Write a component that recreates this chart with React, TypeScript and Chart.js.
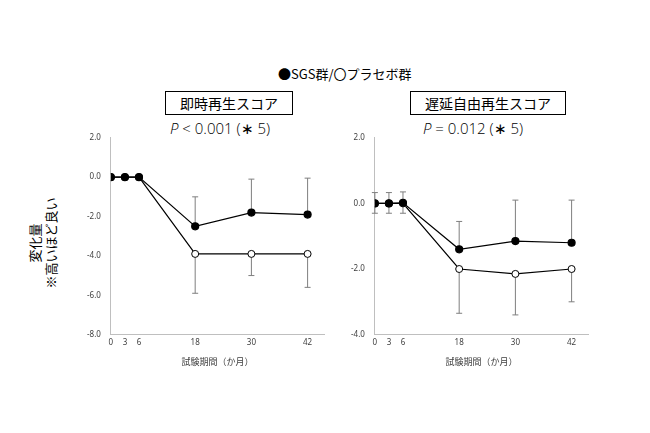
import React, { useEffect, useRef } from "react";
import { Chart, registerables } from "chart.js";
Chart.register(...registerables);

const months = [0, 3, 6, 18, 30, 42];
const xTickLabels = ["0", "3", "6", "18", "30", "42"];
// 即時再生スコア
const leftSGS = [0, 0, 0, -2.5, -1.8, -1.9];
const leftSGSUpper = [0, 0, 0, -1.0, -0.1, -0.05];
const leftPlacebo = [0, 0, 0, -3.9, -3.9, -3.9];
const leftPlaceboLower = [0, 0, 0, -5.9, -5.0, -5.6];
// 遅延自由再生スコア
const rightSGS = [0, 0, 0.02, -1.4, -1.15, -1.2];
const rightSGSUpper = [0.33, 0.33, 0.35, -0.55, 0.1, 0.1];
const rightPlacebo = [0, 0, 0, -2.0, -2.15, -2.0];
const rightPlaceboLower = [-0.3, -0.3, -0.3, -3.35, -3.4, -3.0];

const errPlugin = {
  id: "errbars",
  beforeDatasetsDraw(chart: any) {
    const ctx = chart.ctx;
    const xs = chart.scales.x, ys = chart.scales.y;
    ctx.save();
    ctx.strokeStyle = "#7f7f7f";
    ctx.lineWidth = 1;
    chart.data.datasets.forEach((ds: any) => {
      ds.data.forEach((p: any, i: number) => {
        const end = ds.errEnd[i];
        if (end === p.y) return;
        const x = xs.getPixelForValue(p.x);
        const y0 = ys.getPixelForValue(p.y);
        const y1 = ys.getPixelForValue(end);
        ctx.beginPath();
        ctx.moveTo(x, y0); ctx.lineTo(x, y1);
        ctx.moveTo(x - 3, y1); ctx.lineTo(x + 3, y1);
        ctx.stroke();
      });
    });
    ctx.restore();
  },
};

function makeCfg(sgs: number[], sgsErr: number[], pl: number[], plErr: number[], ymin: number, ystep: number) {
  const pts = (v: number[]) => months.map((m, i) => ({ x: m, y: v[i] }));
  return {
    type: "line",
    data: {
      datasets: [
        { data: pts(sgs), errEnd: sgsErr, borderColor: "#000", borderWidth: 1.2, pointRadius: 3.5, pointBackgroundColor: "#000", pointBorderColor: "#000" },
        { data: pts(pl), errEnd: plErr, borderColor: "#000", borderWidth: 1.2, pointRadius: 3.5, pointBackgroundColor: "#fff", pointBorderColor: "#000", pointBorderWidth: 1 },
      ],
    },
    options: {
      animation: false, responsive: false,
      layout: { padding: { right: 8, top: 6 } },
      plugins: { legend: { display: false }, tooltip: { enabled: false } },
      scales: {
        x: {
          type: "linear", min: 0, max: 45.5,
          afterBuildTicks: (s: any) => { s.ticks = months.map((v) => ({ value: v })); },
          ticks: { autoSkip: false, maxRotation: 0, color: "#404040", font: { size: 8, family: "Noto Sans" }, callback: (v: any) => xTickLabels[months.indexOf(v)] },
          grid: { display: false, drawTicks: false },
          border: { color: "#bfbfbf" },
          title: { display: true, text: "試験期間（か月）", color: "#404040", font: { size: 9, family: "Noto Sans CJK JP" }, padding: { top: 6 } },
        },
        y: {
          min: ymin, max: 2,
          ticks: { stepSize: ystep, color: "#404040", font: { size: 8, family: "Noto Sans" }, callback: (v: any) => Number(v).toFixed(1), padding: 10 },
          grid: { display: false, drawTicks: false },
          border: { color: "#bfbfbf" },
        },
      },
    },
    plugins: [errPlugin],
  };
}

function Panel({ cfg, left }: { cfg: any; left: number }) {
  const ref = useRef<HTMLCanvasElement>(null);
  useEffect(() => {
    const c = new Chart(ref.current!, cfg);
    return () => c.destroy();
  }, []);
  return <canvas ref={ref} width={255} height={248} style={{ position: "absolute", left, top: 123 }} />;
}

const boxStyle: any = { position: "absolute", border: "1px solid #000", fontSize: 14, padding: "1px 14px", fontFamily: "Noto Sans CJK JP", whiteSpace: "nowrap" };
const pStyle: any = { position: "absolute", fontSize: 15, fontFamily: "Open Sans", fontWeight: 300, whiteSpace: "nowrap" };

export default function App() {
  return (
    <div style={{ position: "fixed", left: 0, top: 0, width: 650, height: 433, background: "#fff", color: "#000" }}>
      <div style={{ position: "absolute", left: 278, top: 64, fontSize: 13, fontFamily: "Noto Sans CJK JP", whiteSpace: "nowrap" }}>●SGS群/〇プラセボ群</div>
      <div style={{ ...boxStyle, left: 165, top: 91 }}>即時再生スコア</div>
      <div style={{ ...pStyle, left: 170, top: 118 }}><i>P</i> &lt; 0.001 (∗ 5)</div>
      <div style={{ ...boxStyle, left: 410, top: 91 }}>遅延自由再生スコア</div>
      <div style={{ ...pStyle, left: 423, top: 118 }}><i>P</i> = 0.012 (∗ 5)</div>
      <div style={{ position: "absolute", left: 43, top: 243, transform: "translate(-50%,-50%) rotate(-90deg)", fontSize: 13, fontFamily: "Noto Sans CJK JP", textAlign: "center", lineHeight: "16px", whiteSpace: "nowrap" }}>変化量<br />※高いほど良い</div>
      <Panel left={77} cfg={makeCfg(leftSGS, leftSGSUpper, leftPlacebo, leftPlaceboLower, -8, 2)} />
      <Panel left={341} cfg={makeCfg(rightSGS, rightSGSUpper, rightPlacebo, rightPlaceboLower, -4, 2)} />
    </div>
  );
}
